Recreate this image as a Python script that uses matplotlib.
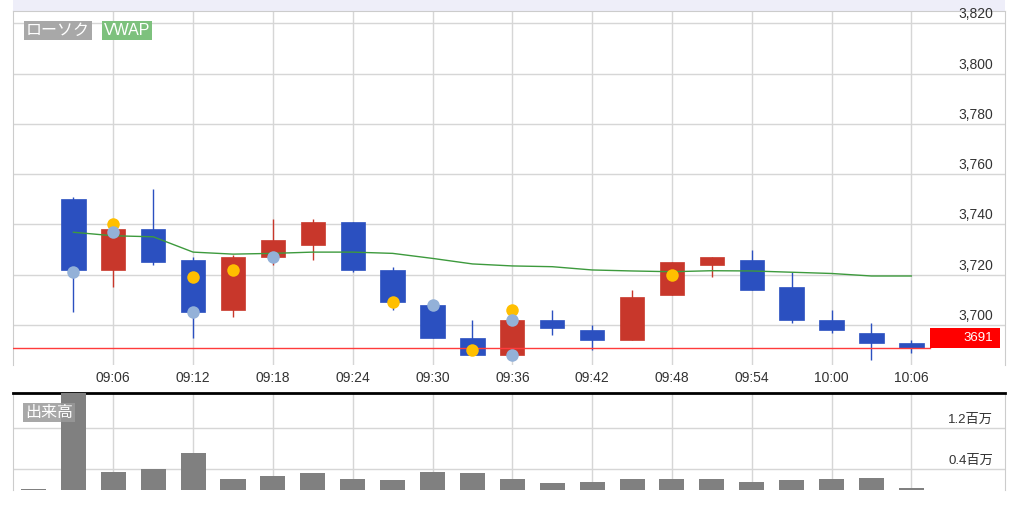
import matplotlib
matplotlib.use("Agg")
from matplotlib import pyplot as plt
from matplotlib.patches import Rectangle
import matplotlib.transforms as mtransforms

# minutes after 09:00
times = [3, 6, 9, 12, 15, 18, 21, 24, 27, 30, 33, 36, 39, 42, 45, 48, 51, 54, 57, 60, 63, 66]
opens = [3750, 3722, 3738, 3726, 3706, 3727, 3732, 3741, 3722, 3708, 3695, 3688,
         3702, 3698, 3694, 3712, 3724, 3726, 3715, 3702, 3697, 3693]
highs = [3751, 3739, 3754, 3727, 3728, 3742, 3742, 3741, 3723, 3708, 3702, 3702,
         3706, 3700, 3714, 3725, 3727, 3730, 3721, 3706, 3701, 3694]
lows = [3705, 3715, 3724, 3695, 3703, 3724, 3726, 3721, 3706, 3695, 3688, 3686,
        3696, 3690, 3694, 3712, 3719, 3714, 3701, 3697, 3686, 3689]
closes = [3722, 3738, 3725, 3705, 3727, 3734, 3741, 3722, 3709, 3695, 3688, 3702,
          3699, 3694, 3711, 3725, 3727, 3714, 3702, 3698, 3693, 3691]
vwap = [3736.9, 3735.5, 3735.1, 3729.0, 3728.2, 3728.5, 3729.0, 3729.0, 3728.5, 3726.5, 3724.3,
        3723.5, 3723.2, 3721.9, 3721.5, 3721.2, 3721.6, 3721.5, 3721.0, 3720.5, 3719.5, 3719.5]

yellow_t = [6, 12, 15, 27, 33, 36, 48]
yellow_p = [3740, 3719, 3722, 3709, 3690, 3706, 3720]
blue_t = [3, 6, 12, 18, 30, 36, 36]
blue_p = [3721, 3737, 3705, 3727, 3708, 3702, 3688]

vol_times = [0] + times
volumes = [0.02, 2.2, 0.36, 0.40, 0.73, 0.21, 0.27, 0.34, 0.22, 0.19, 0.36, 0.34,
           0.21, 0.14, 0.16, 0.22, 0.22, 0.21, 0.16, 0.19, 0.21, 0.24, 0.045]  # millions

last_price = 3691
price_ticks = [3700, 3720, 3740, 3760, 3780, 3800, 3820]
time_ticks = [6, 12, 18, 24, 30, 36, 42, 48, 54, 60, 66]
time_labels = ["09:06", "09:12", "09:18", "09:24", "09:30", "09:36",
               "09:42", "09:48", "09:54", "10:00", "10:06"]
vol_ticks = [0.4, 1.2]
vol_labels = ["0.4百万", "1.2百万"]

UP = "#c8372b"
DOWN = "#2b50c0"
GRID = "#d6d6d6"
FONT = ["Liberation Sans", "Noto Sans CJK JP"]
plt.rcParams["font.family"] = FONT

W, H = 1024, 511
fig = plt.figure(figsize=(W / 100, H / 100), dpi=100)
fig.patch.set_facecolor("white")

def frac(x0, y0, x1, y1):
    return [x0 / W, 1 - y1 / H, (x1 - x0) / W, (y1 - y0) / H]

# top band (behind everything)
fig.add_artist(Rectangle((13 / W, 1 - 11 / H), 992 / W, 11 / H, transform=fig.transFigure,
                         facecolor="#eeeef9", edgecolor="none", zorder=-5))

ax = fig.add_axes(frac(13, 11, 1005, 365))
axv = fig.add_axes(frac(13, 393, 1005, 490))

xmin, xmax = -1.54, 73.04

# ---- price panel
ax.set_xlim(xmin, xmax)
ax.set_ylim(3684.1, 3824.9)
ax.set_yticks(price_ticks)
ax.set_yticklabels([])
ax.set_xticks(time_ticks)
ax.set_xticklabels(time_labels, fontsize=10, color="#333333")
ax.tick_params(length=0, pad=4)
ax.grid(True, color=GRID, lw=1)
ax.set_axisbelow(True)
for s in ["top", "left", "right"]:
    ax.spines[s].set_color("#cccccc")
ax.spines["bottom"].set_visible(False)

w = 1.83
for t, o, h, l, c in zip(times, opens, highs, lows, closes):
    col = UP if c >= o else DOWN
    ax.vlines(t, l, h, color=col, lw=1, zorder=2)
    ax.bar(t, max(abs(c - o), 0.6), width=w, bottom=min(o, c), color=col,
           edgecolor=col, lw=0.5, zorder=3)

ax.plot(times, vwap, color="#3d9a3d", lw=1, zorder=4)
ax.plot(yellow_t, yellow_p, "o", color="#ffbf00", ms=9, mec="none", zorder=5)
ax.plot(blue_t, blue_p, "o", color="#93b1d8", ms=9, mec="none", zorder=5)

# last price line + tag
ax.axhline(last_price, xmin=0, xmax=0.924, color="#ff3b3b", lw=1, zorder=4)
blend = mtransforms.blended_transform_factory(ax.transAxes, ax.transData)
ax.add_patch(Rectangle((0.9244, last_price), 0.0706, 8, transform=blend,
                       facecolor="#ff0000", edgecolor="none", zorder=6, clip_on=False))
ax.text(0.988, last_price + 4, str(last_price), transform=blend, ha="right", va="center",
        color="white", fontsize=9.5, zorder=7)

for p in price_ticks:
    ax.annotate(f"{p:,}", (0.988, p), xycoords=blend, xytext=(0, 1.5),
                textcoords="offset points", ha="right", va="bottom", fontsize=10,
                color="#333333", annotation_clip=False)

ax.text(0.0131, 0.966, "ローソク", transform=ax.transAxes, ha="left", va="top",
        color="white", fontsize=11.5,
        bbox=dict(boxstyle="square,pad=0.12", facecolor="#a8a8a8", edgecolor="none"))
ax.text(0.0917, 0.966, "VWAP", transform=ax.transAxes, ha="left", va="top",
        color="white", fontsize=11.5,
        bbox=dict(boxstyle="square,pad=0.12", facecolor="#7dc17d", edgecolor="none"))

# ---- volume panel
axv.set_xlim(xmin, xmax)
axv.set_ylim(0, 1.89)
axv.set_xticks(time_ticks)
axv.set_xticklabels([])
axv.set_yticks(vol_ticks)
axv.set_yticklabels([])
axv.tick_params(length=0)
axv.grid(True, color=GRID, lw=1)
axv.set_axisbelow(True)
axv.bar(vol_times, volumes, width=1.88, color="#808080", zorder=3)
axv.spines["top"].set_color("black")
axv.spines["top"].set_linewidth(2)
axv.spines["bottom"].set_visible(False)
for s in ["left", "right"]:
    axv.spines[s].set_color("#cccccc")

vblend = mtransforms.blended_transform_factory(axv.transAxes, axv.transData)
for v, lab in zip(vol_ticks, vol_labels):
    axv.annotate(lab, (0.988, v), xycoords=vblend, xytext=(0, 2),
                 textcoords="offset points", ha="right", va="bottom", fontsize=9.5,
                 color="#333333")
axv.text(0.0121, 0.88, "出来高", transform=axv.transAxes, ha="left", va="top",
         color="white", fontsize=11.5, zorder=6,
         bbox=dict(boxstyle="square,pad=0.12", facecolor="#999999", edgecolor="none",
                   alpha=0.85))

fig.savefig("out.png", dpi=100)
